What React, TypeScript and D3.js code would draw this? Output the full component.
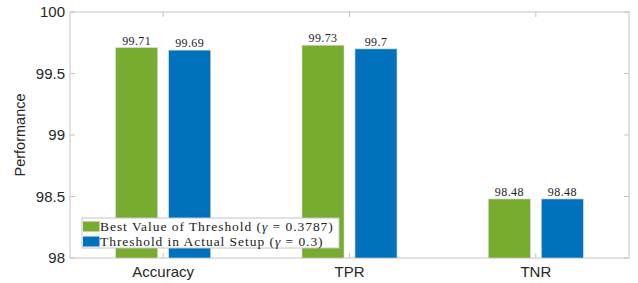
import React, { useEffect, useRef } from 'react';
import * as d3 from 'd3';

const categories = ['Accuracy', 'TPR', 'TNR'];
const seriesNames = ['Best Value of Threshold', 'Threshold in Actual Setup'];
const gammaLabels = ['0.3787', '0.3'];
const bestValues = [99.71, 99.73, 98.48];
const actualValues = [99.69, 99.7, 98.48];
const valueLabels = [['99.71', '99.73', '98.48'], ['99.69', '99.7', '98.48']];
const yTicks = [98, 98.5, 99, 99.5, 100];
const colors = ['#77AC30', '#0072BD'];

const W = 638;
const H = 283;
const SANS = '"Liberation Sans", Arial, Helvetica, sans-serif';
const SERIF = '"Liberation Serif", "Times New Roman", serif';

const App: React.FC = () => {
  const svgRef = useRef<SVGSVGElement>(null);
  const margin = { top: 12, right: 9, bottom: 25, left: 70 };
  const innerWidth = W - margin.left - margin.right;
  const innerHeight = H - margin.top - margin.bottom;

  useEffect(() => {
    if (!svgRef.current) return;
    const svg = d3.select(svgRef.current);
    svg.selectAll('*').remove();

    const g = svg.append('g').attr('transform', `translate(${margin.left},${margin.top})`);

    const x = d3.scaleBand().domain(categories).range([0, innerWidth]);
    const y = d3.scaleLinear().domain([98, 100]).range([innerHeight, 0]);
    const sub = d3.scaleBand().domain(['0', '1']).range([-47.5, 47.5]).paddingInner(0.2075).paddingOuter(0);

    const series = [bestValues, actualValues];

    // frame
    g.append('rect')
      .attr('width', innerWidth).attr('height', innerHeight)
      .attr('fill', 'none').attr('stroke', '#c4c4c4').attr('stroke-width', 1);

    series.forEach((vals, si) => {
      g.selectAll(`.bar-${si}`)
        .data(vals)
        .enter()
        .append('rect')
        .attr('x', (_, i) => x(categories[i])! + x.bandwidth() / 2 + sub(String(si))!)
        .attr('y', d => y(d))
        .attr('width', sub.bandwidth())
        .attr('height', d => innerHeight - y(d))
        .attr('fill', colors[si])
        .attr('stroke', '#d8d8d8')
        .attr('stroke-width', 0.6);

      g.selectAll(`.lbl-${si}`)
        .data(vals)
        .enter()
        .append('text')
        .attr('x', (_, i) => x(categories[i])! + x.bandwidth() / 2 + sub(String(si))! + sub.bandwidth() / 2)
        .attr('y', d => y(d) - 3)
        .attr('text-anchor', 'middle')
        .attr('font-family', SERIF)
        .attr('font-size', 12)
        .attr('letter-spacing', 0.4)
        .attr('fill', '#222')
        .text((_, i) => valueLabels[si][i]);
    });

    // y ticks
    yTicks.forEach(t => {
      g.append('line').attr('x1', 0).attr('x2', 5).attr('y1', y(t)).attr('y2', y(t)).attr('stroke', '#c4c4c4');
      g.append('line').attr('x1', innerWidth - 5).attr('x2', innerWidth).attr('y1', y(t)).attr('y2', y(t)).attr('stroke', '#c4c4c4');
      g.append('text')
        .attr('x', -5).attr('y', y(t)).attr('dy', '0.35em')
        .attr('text-anchor', 'end')
        .attr('font-family', SANS)
        .attr('font-size', 15)
        .attr('fill', '#262626')
        .text(String(t));
    });

    // x ticks
    categories.forEach(c => {
      const cx = x(c)! + x.bandwidth() / 2;
      g.append('line').attr('x1', cx).attr('x2', cx).attr('y1', innerHeight).attr('y2', innerHeight - 5).attr('stroke', '#c4c4c4');
      g.append('line').attr('x1', cx).attr('x2', cx).attr('y1', 0).attr('y2', 5).attr('stroke', '#c4c4c4');
      g.append('text')
        .attr('x', cx).attr('y', innerHeight + 19)
        .attr('text-anchor', 'middle')
        .attr('font-family', SANS)
        .attr('font-size', 15)
        .attr('fill', '#262626')
        .text(c);
    });

    // y label
    g.append('text')
      .attr('transform', `translate(${-45},${innerHeight / 2}) rotate(-90)`)
      .attr('text-anchor', 'middle')
      .attr('font-family', SANS)
      .attr('font-size', 14.5)
      .attr('fill', '#262626')
      .text('Performance');

    // legend
    const lg = g.append('g').attr('transform', `translate(${82 - margin.left},${218 - margin.top})`);
    lg.append('rect').attr('width', 257).attr('height', 30).attr('fill', '#fff').attr('stroke', '#c4c4c4');
    seriesNames.forEach((name, i) => {
      const ry = 8.5 + i * 15;
      lg.append('rect').attr('x', 1).attr('y', ry - 5).attr('width', 16.5).attr('height', 10).attr('fill', colors[i]);
      const t = lg.append('text')
        .attr('x', 18).attr('y', ry).attr('dy', '0.35em')
        .attr('font-family', SERIF)
        .attr('font-size', 13.5)
        .attr('letter-spacing', 0.95)
        .attr('fill', '#222');
      t.append('tspan').text(`${name} (`);
      t.append('tspan').attr('font-style', 'italic').text('γ');
      t.append('tspan').text(` = ${gammaLabels[i]})`);
    });
  }, []);

  return (
    <svg ref={svgRef} width={W} height={H} style={{ display: 'block', position: 'absolute', left: 0, top: 0, background: '#fff' }} />
  );
};

export default App;
